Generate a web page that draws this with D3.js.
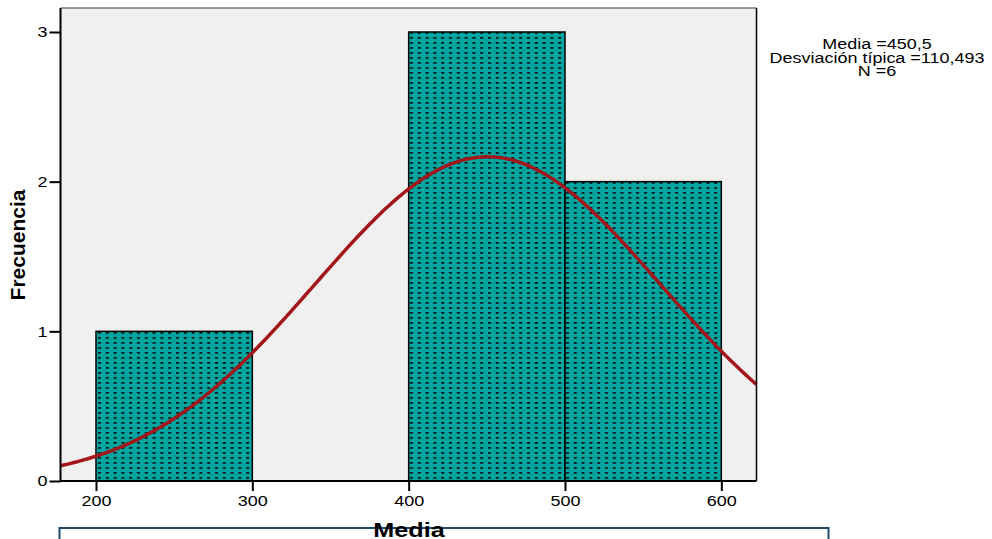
<!DOCTYPE html>
<html><head><meta charset="utf-8">
<script src="https://cdn.jsdelivr.net/npm/d3@7"></script>
<style>body{margin:0;background:#fff}svg{display:block}text{font-family:"Liberation Sans",Arial,sans-serif}</style>
</head><body>
<svg id="c" width="992" height="539"></svg>
<script>
const binStarts = [200, 300, 400, 500];
const binEnds = [300, 400, 500, 600];
const counts = [1, 0, 3, 2];
const xTicks = [200, 300, 400, 500, 600];
const yTicks = [0, 1, 2, 3];
const statLines = ["Media =450,5", "Desviación típica =110,493", "N =6"];
const mean = 450.5, sd = 110.493, n = 6, binWidth = 100;

const SX = 1.2; // horizontal stretch of the text
const svg = d3.select("#c");
const L = 60.5, R = 756.5, T = 8, B = 481;
const xMin = 177.3, xMax = 622.5;
const x = d3.scaleLinear().domain([xMin, xMax]).range([L, R]);
const y = d3.scaleLinear().domain([0, 3]).range([B, 32]);

const defs = svg.append("defs");
const pat = defs.append("pattern").attr("id","dots").attr("patternUnits","userSpaceOnUse")
  .attr("width",7.8).attr("height",5).attr("x",x(200)).attr("y",0);
pat.append("rect").attr("width",7.8).attr("height",5).attr("fill","#00a5a0");
pat.append("rect").attr("x",2).attr("y",2).attr("width",3).attr("height",1.8).attr("fill","#08191b");

svg.append("rect").attr("x",L).attr("y",T).attr("width",R-L).attr("height",B-T)
  .attr("fill","#f0f0f0");

const bins = counts.map((c,i)=>({x0:binStarts[i],x1:binEnds[i],c})).filter(d=>d.c>0);
svg.selectAll("rect.bar").data(bins).enter().append("rect").attr("class","bar")
  .attr("x",d=>x(d.x0)).attr("y",d=>y(d.c)).attr("width",d=>x(d.x1)-x(d.x0)).attr("height",d=>y(0)-y(d.c))
  .attr("fill","url(#dots)").attr("stroke","#000").attr("stroke-width",1.5);

// normal curve
const xs = d3.range(xMin, xMax, 2).concat([xMax]);
const pdf = v => n*binWidth/(sd*Math.sqrt(2*Math.PI))*Math.exp(-0.5*((v-mean)/sd)**2);
svg.append("path").datum(xs).attr("fill","none").attr("stroke","#a3161b").attr("stroke-width",3.5)
  .attr("d", d3.line().x(v=>x(v)).y(v=>y(pdf(v))));

// frame
svg.append("line").attr("x1",L).attr("x2",R).attr("y1",T).attr("y2",T).attr("stroke","#777").attr("stroke-width",1.5);
svg.append("line").attr("x1",R).attr("x2",R).attr("y1",T).attr("y2",B).attr("stroke","#000").attr("stroke-width",1.5);

// axes
const yAxis = d3.axisLeft(y).tickValues(yTicks).tickFormat(d3.format("d")).tickSize(11).tickPadding(2);
const gy = svg.append("g").attr("transform",`translate(${L},0)`).call(yAxis);
const xAxis = d3.axisBottom(x).tickValues(xTicks).tickFormat(d3.format("d")).tickSize(10).tickPadding(4);
const gx = svg.append("g").attr("transform",`translate(0,${B})`).call(xAxis);
[gx,gy].forEach(g=>{
  g.select(".domain").attr("stroke","#000").attr("stroke-width",2);
  g.selectAll(".tick line").attr("stroke","#000").attr("stroke-width",2);
  g.selectAll(".tick text").attr("font-size",15).attr("fill","#000").attr("font-family","Liberation Sans, Arial, sans-serif")
    .attr("transform",`scale(${SX},1)`);
});
gy.selectAll(".tick text").attr("x",-13/SX);
gy.select(".domain").attr("d",`M0,${B}V${T}`);
gx.select(".domain").attr("d",`M${L},0H${R}`);

svg.append("text").attr("transform","translate(25,245) rotate(-90)").attr("text-anchor","middle")
  .attr("font-size",21).attr("font-weight","bold").text("Frecuencia");

// bottom box
svg.append("rect").attr("x",59.5).attr("y",528).attr("width",769).attr("height",30)
  .attr("fill","none").attr("stroke","#1f4a6a").attr("stroke-width",2);
svg.append("text").attr("transform",`translate(409,537) scale(${SX},1)`).attr("text-anchor","middle")
  .attr("font-size",21).attr("font-weight","bold").text("Media");

// stats
svg.append("g").selectAll("text").data(statLines).enter().append("text")
  .attr("transform",(d,i)=>`translate(877,${49+i*13.5}) scale(1.24,1)`).attr("text-anchor","middle")
  .attr("font-size",14.5).text(d=>d);
</script>
</body></html>
